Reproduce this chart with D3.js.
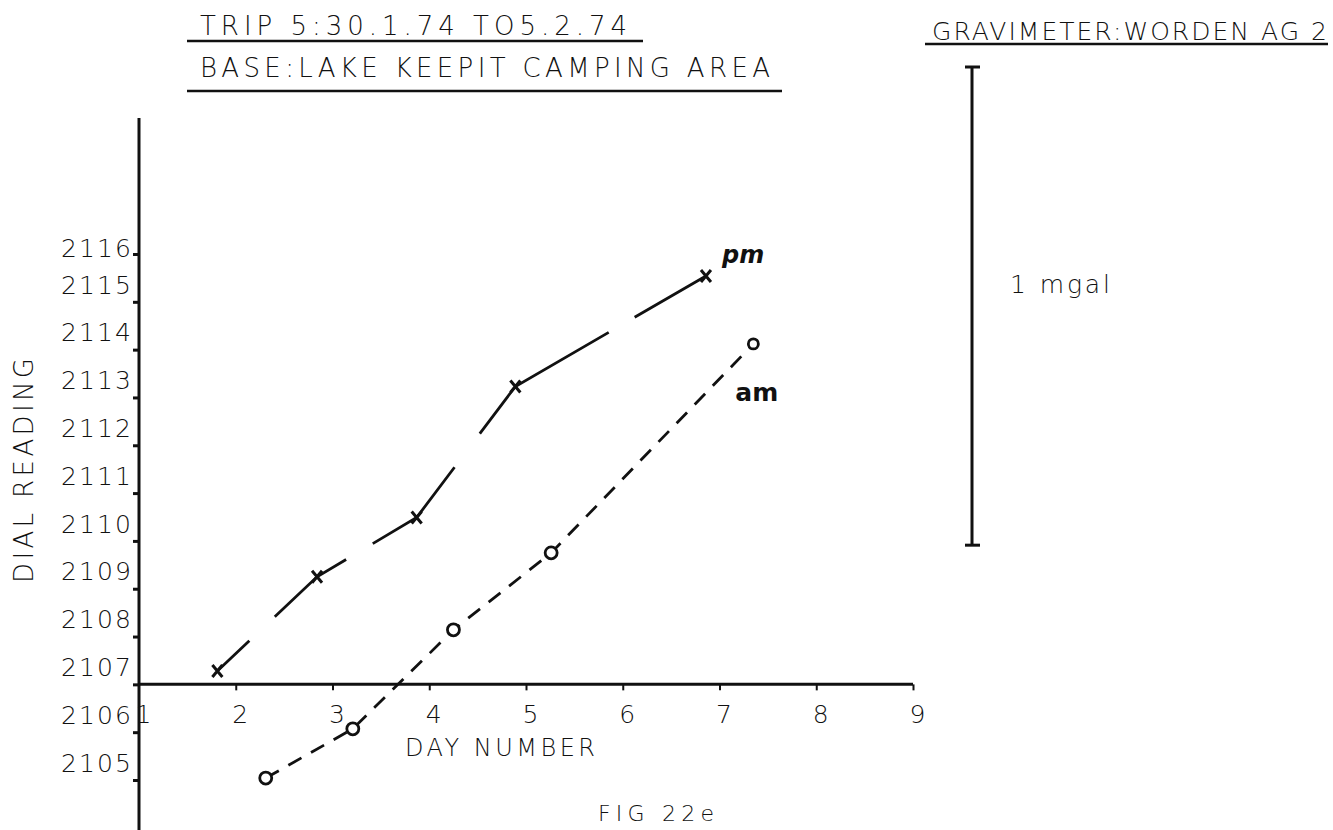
<!DOCTYPE html>
<html>
<head>
<meta charset="utf-8">
<script src="https://cdn.jsdelivr.net/npm/d3@7"></script>
<style>
  html, body { margin: 0; padding: 0; background: #fff; }
  svg { display: block; }
  text { font-family: "DejaVu Sans", "Liberation Sans", sans-serif; font-weight: 200; fill: #111; }
</style>
</head>
<body>
<svg id="chart" width="1333" height="830"></svg>
<script>
// ---- data ----
const pmDays   = [1.81, 2.84, 3.87, 4.89, 6.86];
const pmValues = [2107.28, 2109.25, 2110.49, 2113.23, 2115.54];
const amDays   = [2.31, 3.21, 4.25, 5.26, 7.35];
const amValues = [2105.04, 2106.07, 2108.14, 2109.75, 2114.12];
const xTicks = [1, 2, 3, 4, 5, 6, 7, 8, 9];
const yTicks = [2105, 2106, 2107, 2108, 2109, 2110, 2111, 2112, 2113, 2114, 2115, 2116];
const titleLine1 = "TRIP 5:30.1.74 TO5.2.74";
const titleLine2 = "BASE:LAKE KEEPIT CAMPING AREA";
const instrument = "GRAVIMETER:WORDEN AG 2";
const scaleLabel = "1 mgal";
const scaleSpan = 10;          // dial units equal to 1 mgal
const xTitle = "DAY NUMBER";
const yTitle = "DIAL READING";
const figLabel = "FIG 22e";

const svg = d3.select("#chart");
const ink = "#111";

const x = d3.scaleLinear().domain([1, 9]).range([139, 913]);
const y = d3.scaleLinear().domain([2105, 2116]).range([780, 254]);
const axisX = x(1);
const axisY = y(2107);

// ---- titles ----
function lettered(txt, x0, base, size, len) {
  return svg.append("text").attr("x", x0).attr("y", base)
    .attr("font-size", size).attr("textLength", len).attr("lengthAdjust", "spacing")
    .text(txt);
}
lettered(titleLine1, 200, 35, 26, 427);
svg.append("line").attr("x1", 187).attr("x2", 643).attr("y1", 41).attr("y2", 41)
  .attr("stroke", ink).attr("stroke-width", 2.5);
lettered(titleLine2, 200, 77, 26, 570);
svg.append("line").attr("x1", 187).attr("x2", 782).attr("y1", 91).attr("y2", 91)
  .attr("stroke", ink).attr("stroke-width", 2.5);
lettered(instrument, 932, 40, 25, 395);
svg.append("line").attr("x1", 925).attr("x2", 1328).attr("y1", 44).attr("y2", 44)
  .attr("stroke", ink).attr("stroke-width", 2.5);

// ---- scale bar (1 mgal) ----
const barX = 972, barTop = 67;
const barLen = y(2105) - y(2105 + scaleSpan);
svg.append("line").attr("x1", barX).attr("x2", barX).attr("y1", barTop).attr("y2", barTop + barLen)
  .attr("stroke", ink).attr("stroke-width", 3);
[barTop, barTop + barLen].forEach(v => {
  svg.append("line").attr("x1", barX - 7).attr("x2", barX + 8).attr("y1", v).attr("y2", v)
    .attr("stroke", ink).attr("stroke-width", 3);
});
lettered(scaleLabel, 1010, 293, 25, 100);

// ---- axes ----
svg.append("line").attr("x1", axisX).attr("x2", axisX).attr("y1", 118).attr("y2", 830)
  .attr("stroke", ink).attr("stroke-width", 3);
svg.append("line").attr("x1", axisX).attr("x2", x(9)).attr("y1", axisY).attr("y2", axisY)
  .attr("stroke", ink).attr("stroke-width", 3);

// y ticks
const yAxis = d3.axisLeft(y).tickValues(yTicks).tickSize(6).tickFormat(d3.format("d"));
const gy = svg.append("g").attr("transform", `translate(${axisX},0)`).call(yAxis);
gy.select(".domain").remove();
gy.selectAll(".tick line").attr("stroke", ink).attr("stroke-width", 3);
gy.selectAll(".tick text")
  .attr("font-size", 25).attr("fill", ink).attr("x", -8)
  .attr("textLength", 70).attr("lengthAdjust", "spacing")
  .attr("dy", d => d === yTicks[yTicks.length - 1] ? "0.35em" : "-0.35em")
  .attr("transform", d => d === yTicks[yTicks.length - 1] ? "translate(0,-6)" : null)
  .style("font-family", "\"DejaVu Sans\", \"Liberation Sans\", sans-serif")
  .style("font-weight", 200);

// x ticks
const xAxis = d3.axisBottom(x).tickValues(xTicks).tickSize(6).tickFormat(d3.format("d"));
const gx = svg.append("g").attr("transform", `translate(0,${axisY})`).call(xAxis);
gx.select(".domain").remove();
gx.selectAll(".tick line").attr("stroke", ink).attr("stroke-width", 2)
  .attr("opacity", d => d === 1 ? 0 : 1);
gx.selectAll(".tick text")
  .attr("font-size", 25).attr("fill", ink).attr("y", 16).attr("dx", 4)
  .attr("dy", "0.9em")
  .style("font-family", "\"DejaVu Sans\", \"Liberation Sans\", sans-serif")
  .style("font-weight", 200);

// axis titles
lettered(xTitle, 405, 756, 24, 190);
svg.append("text")
  .attr("transform", "translate(33,583) rotate(-90)")
  .attr("font-size", 26).attr("textLength", 225).attr("lengthAdjust", "spacing")
  .text(yTitle);

// ---- series ----
const pm = pmDays.map((d, i) => [d, pmValues[i]]);
const am = amDays.map((d, i) => [d, amValues[i]]);
const line = d3.line().x(d => x(d[0])).y(d => y(d[1]));

svg.append("path").attr("d", line(am))
  .attr("fill", "none").attr("stroke", ink).attr("stroke-width", 2.8)
  .attr("stroke-dasharray", "15 11");
svg.append("path").attr("d", line(pm))
  .attr("fill", "none").attr("stroke", ink).attr("stroke-width", 2.8)
  .attr("stroke-dasharray", "44 35 92 31 114 42 167 30 400");

// pm crosses
pm.forEach(d => {
  const cx = x(d[0]), cy = y(d[1]);
  svg.append("path")
    .attr("d", `M${cx - 5},${cy - 6}L${cx + 5},${cy + 6}M${cx - 5},${cy + 6}L${cx + 5},${cy - 6}`)
    .attr("stroke", ink).attr("stroke-width", 3).attr("fill", "none");
});
// am circles
svg.selectAll("circle.am").data(am).join("circle").attr("class", "am")
  .attr("cx", d => x(d[0])).attr("cy", d => y(d[1]))
  .attr("r", (d, i) => i === am.length - 1 ? 5 : 6)
  .attr("fill", "#fff").attr("stroke", ink).attr("stroke-width", 2.8);

// handwritten series labels
svg.append("text").attr("x", x(pmDays[4]) + 16).attr("y", y(pmValues[4]) - 13)
  .attr("font-size", 24).style("font-weight", 700).attr("font-style", "italic").text("pm");
svg.append("text").attr("x", x(amDays[4]) - 18).attr("y", y(amValues[4]) + 57)
  .attr("font-size", 25).style("font-weight", 700).text("am");

// figure label
lettered(figLabel, 598, 821, 22, 116);
</script>
</body>
</html>
